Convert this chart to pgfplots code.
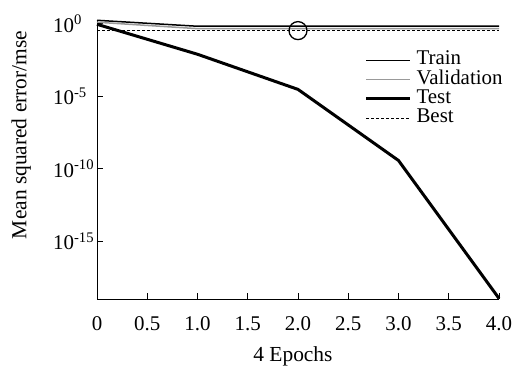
\documentclass[border=0pt]{standalone}
\usepackage{fontspec}
\setmainfont{Liberation Serif}
\usepackage{pgfplots}
\pgfplotsset{compat=1.18}
\begin{document}
\begin{tikzpicture}
\path[use as bounding box] (0,0) rectangle (513bp,366bp);
\begin{axis}[
  at={(97bp,67bp)}, anchor=south west,
  scale only axis, width=402bp, height=279bp,
  xmin=0, xmax=4,
  ymode=log, ymin=1e-19, ymax=1.78,
  axis x line=bottom, axis y line=left,
  axis line style={-, line width=1bp},
  every tick/.style={black, line width=1bp},
  tick align=inside, major tick length=6bp,
  xtick={0,0.5,1,1.5,2,2.5,3,3.5,4},
  xticklabels={0,0.5,1.0,1.5,2.0,2.5,3.0,3.5,4.0},
  ytick={1,1e-5,1e-10,1e-15},
  yticklabels={10\textsuperscript{0},10\textsuperscript{-5},10\textsuperscript{-10},10\textsuperscript{-15}},
  yminorticks=false,
  tick label style={font=\fontsize{21}{24}\selectfont, inner sep=0pt},
  xticklabel style={anchor=base, yshift=-31bp},
  yticklabel style={anchor=west, xshift=-44bp},
  xlabel={4 Epochs},
  ylabel={Mean squared error/mse},
  label style={font=\fontsize{21.5}{25}\selectfont, inner sep=0pt},
  xlabel style={at={(axis description cs:0.5,0)}, anchor=base, yshift=-62bp, xshift=-5bp},
  ylabel style={at={(axis description cs:-0.1754,0.588)}, anchor=base},
  legend style={draw=none, fill=none, at={(rel axis cs:0.665,0.89)}, anchor=north west,
    font=\fontsize{21}{24}\selectfont, inner sep=0pt, row sep=0.3bp,
    nodes={inner sep=0pt, text height=14bp, text depth=5bp}},
  legend cell align=left,
  legend image code/.code={\draw[#1] (0bp,0bp) -- (44bp,0bp);},
  clip=false,
]
\addplot[black, line width=1.5bp] coordinates {(0,1.7) (1,0.66) (2,0.66) (3,0.66) (4,0.66)};
\addlegendentry{\hspace{5bp}Train}
\addplot[black!40, line width=1.5bp] coordinates {(0,1.25) (1,0.45) (2,0.45) (3,0.45) (4,0.45)};
\addlegendentry{\hspace{5bp}Validation}
\addplot[black, line width=3bp] coordinates {(0,0.9) (1,7.7e-3) (2,2.9e-5) (3,3.6e-10) (4,1.1e-19)};
\addlegendentry{\hspace{5bp}Test}
\addplot[black, line width=1bp, dash pattern=on 3bp off 2bp] coordinates {(0,0.33) (4,0.33)};
\addlegendentry{\hspace{5bp}Best}
\addplot[black, line width=1.3bp, only marks, mark=o, mark size=9bp, forget plot] coordinates {(2,0.33)};
\end{axis}
\end{tikzpicture}
\end{document}
